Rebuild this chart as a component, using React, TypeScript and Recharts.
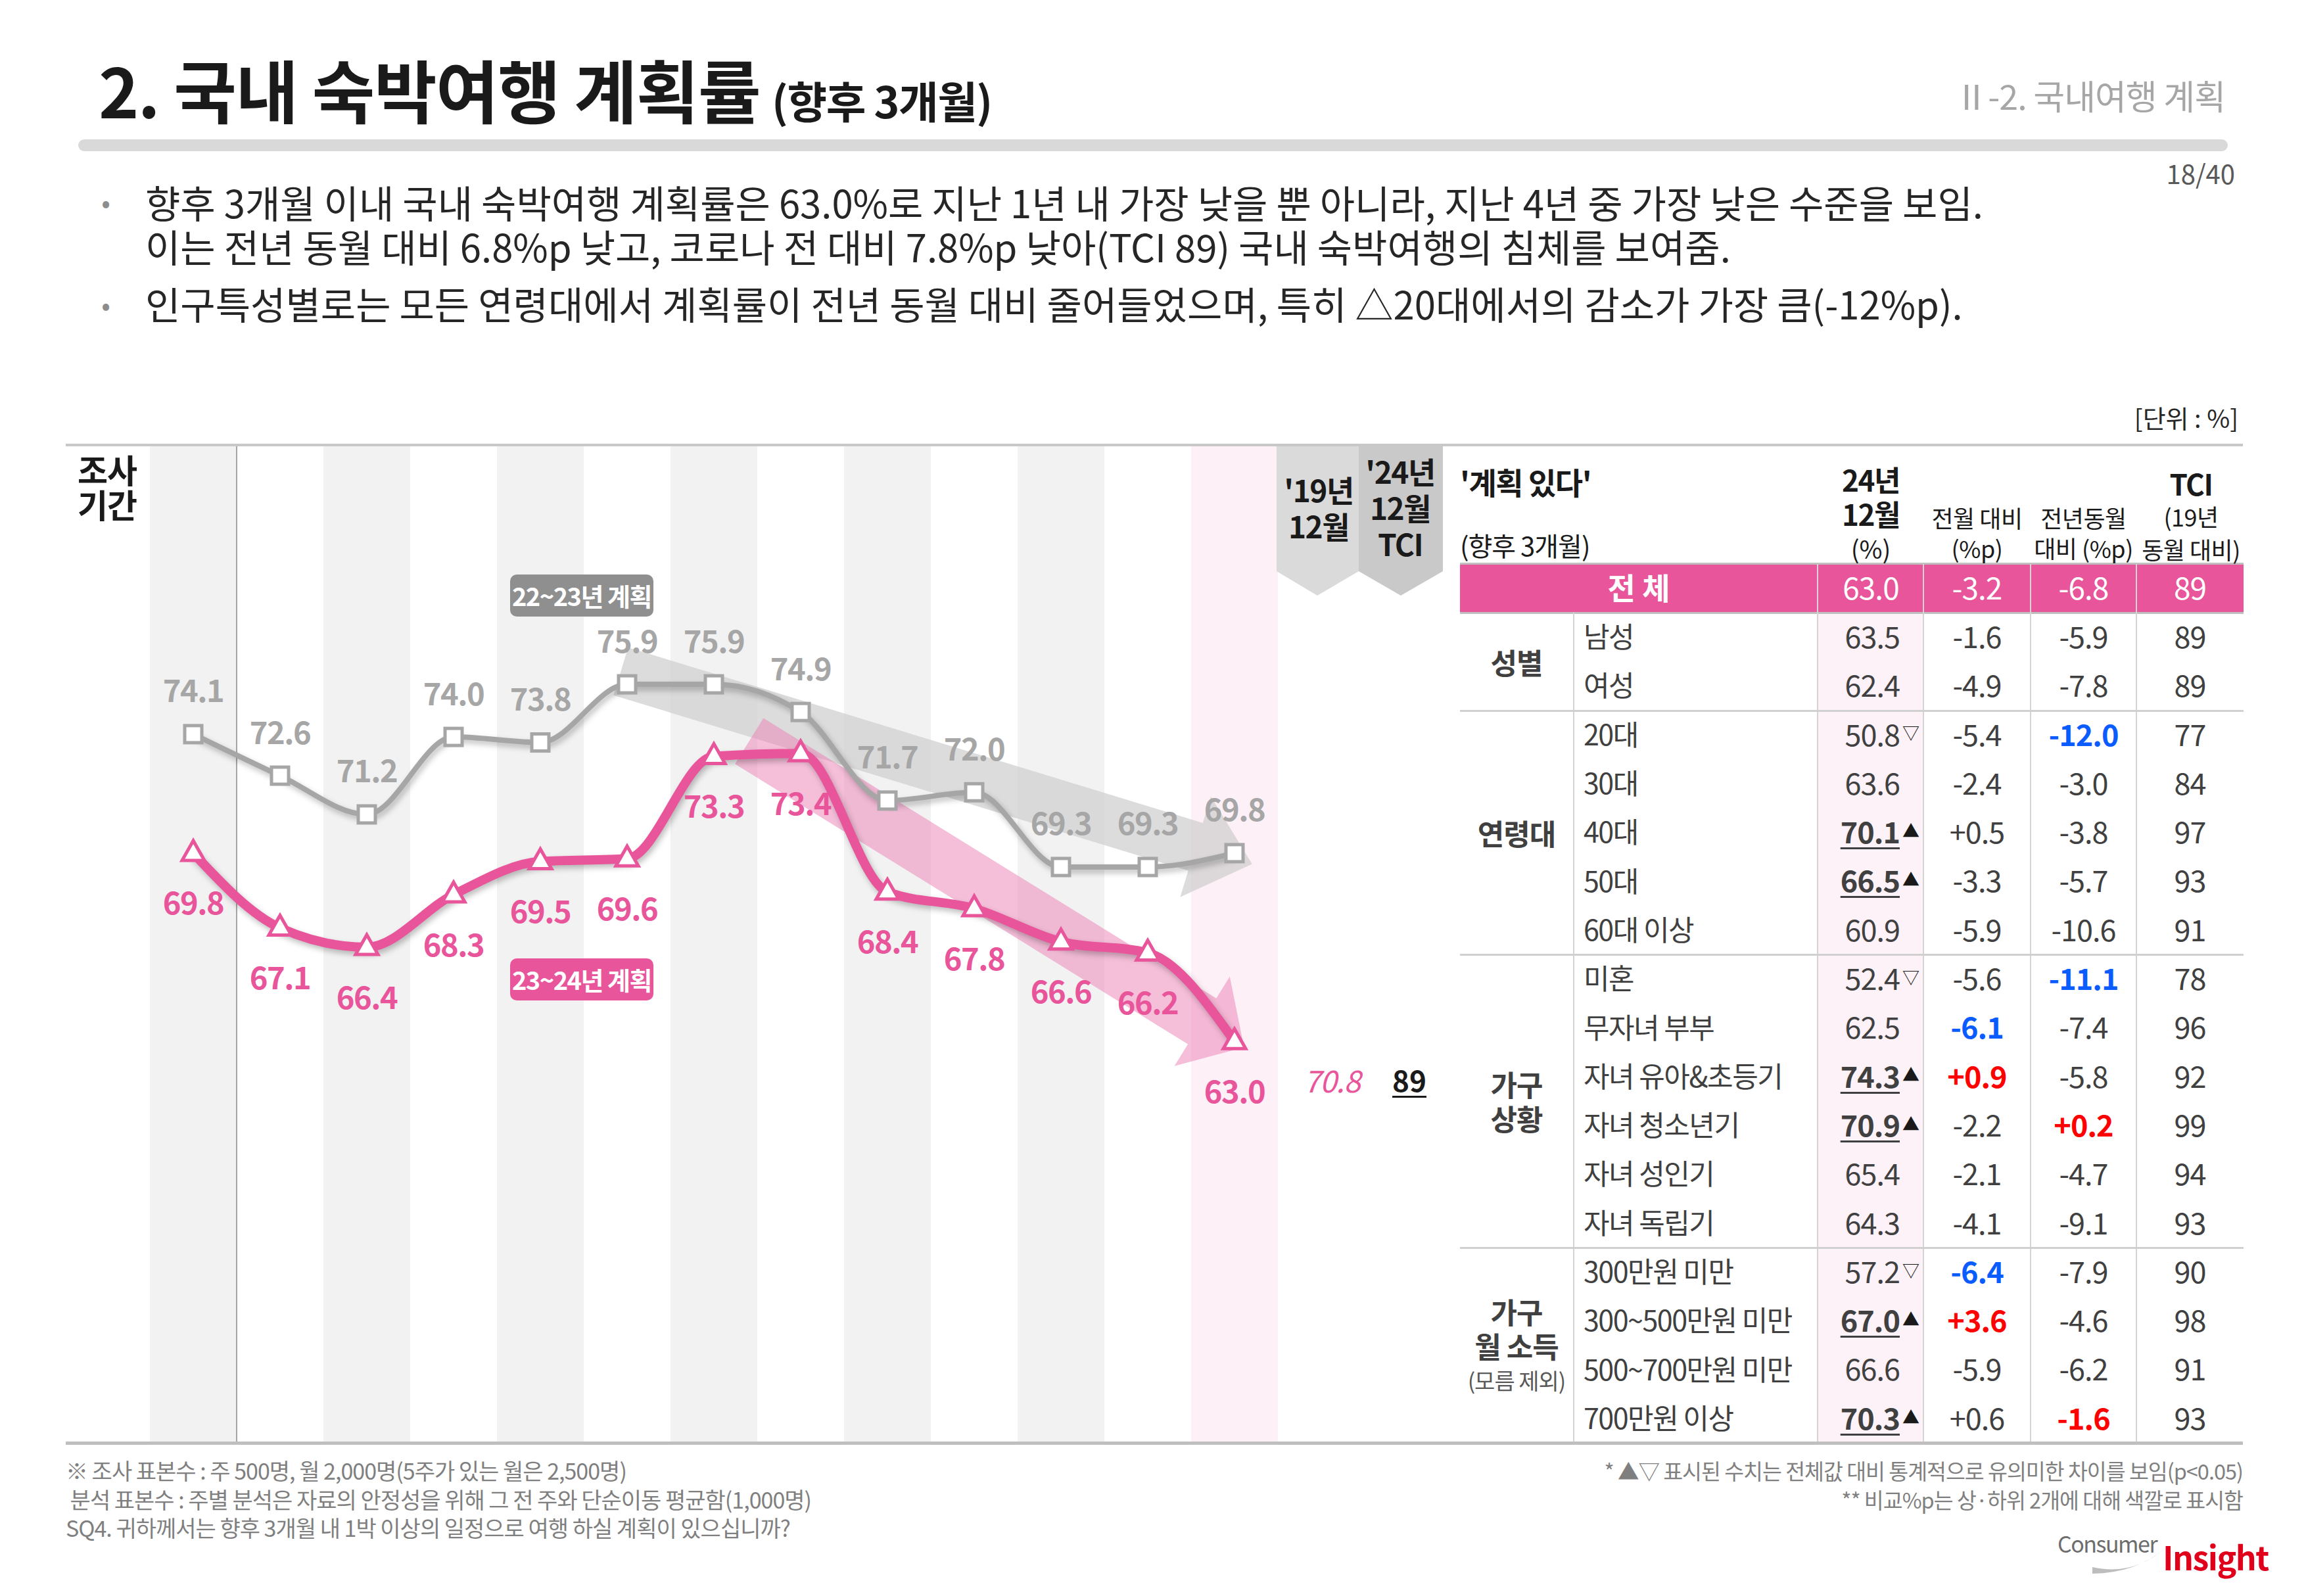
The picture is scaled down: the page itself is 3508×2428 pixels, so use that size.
import React from 'react';
import { ComposedChart, Line, XAxis, YAxis, ReferenceArea, ReferenceLine, LabelList } from 'recharts';

const FONT = "'Noto Sans CJK KR','Noto Sans KR','Noto Sans',sans-serif";

// ---------------- data ----------------
const months = ['23년\n12월', '24년\n1월', '2월', '3월', '4월', '5월', '6월', '7월', '8월', '9월', '10월', '11월', '12월'];
const plan2223 = [74.1, 72.6, 71.2, 74.0, 73.8, 75.9, 75.9, 74.9, 71.7, 72.0, 69.3, 69.3, 69.8];
const plan2324 = [69.8, 67.1, 66.4, 68.3, 69.5, 69.6, 73.3, 73.4, 68.4, 67.8, 66.6, 66.2, 63.0];
const seriesNames = ['22~23년 계획', '23~24년 계획'];
const periodHeader = ['조사', '기간'];
const dec2019Header = ["'19년", '12월'];
const tciHeader = ["'24년", '12월', 'TCI'];
const dec2019Value = 70.8;
const tciValue = 89;
const trendFrom = ['5월', '7월'];
const trendFromValues = [76.3, 72.7];
const trendTo = ['12월', '12월'];
const trendToValues = [69.6, 63.0];

const titleMain = '2. 국내 숙박여행 계획률';
const titleSub = '(향후 3개월)';
const sectionLabel = 'Ⅱ-2. 국내여행 계획';
const pageLabel = '18/40';
const bulletLines = [
  '향후 3개월 이내 국내 숙박여행 계획률은 63.0%로 지난 1년 내 가장 낮을 뿐 아니라, 지난 4년 중 가장 낮은 수준을 보임.',
  '이는 전년 동월 대비 6.8%p 낮고, 코로나 전 대비 7.8%p 낮아(TCI 89) 국내 숙박여행의 침체를 보여줌.',
  '인구특성별로는 모든 연령대에서 계획률이 전년 동월 대비 줄어들었으며, 특히 △20대에서의 감소가 가장 큼(-12%p).',
];
const unitLabel = '[단위 : %]';

const tableTitle = "'계획 있다'";
const tableTitleSub = '(향후 3개월)';
const colHeaders = [['24년', '12월', '(%)'], ['전월 대비', '(%p)'], ['전년동월', '대비 (%p)'], ['TCI', '(19년', '동월 대비)']];
const totalLabel = '전 체';
const totalValues = [63.0, -3.2, -6.8, 89];
const tableGroups = [['성별'], ['연령대'], ['가구', '상황'], ['가구', '월 소득']];
const tableGroupNote = ['', '', '', '(모름 제외)'];
const tableGroupSizes = [2, 5, 6, 4];
const tableItems = ['남성', '여성', '20대', '30대', '40대', '50대', '60대 이상', '미혼', '무자녀 부부', '자녀 유아&초등기', '자녀 청소년기', '자녀 성인기', '자녀 독립기', '300만원 미만', '300~500만원 미만', '500~700만원 미만', '700만원 이상'];
const tableValues = [63.5, 62.4, 50.8, 63.6, 70.1, 66.5, 60.9, 52.4, 62.5, 74.3, 70.9, 65.4, 64.3, 57.2, 67.0, 66.6, 70.3];
const tableSig = ['', '', '▽', '', '▲', '▲', '', '▽', '', '▲', '▲', '', '', '▽', '▲', '', '▲'];
const tableMoM = [-1.6, -4.9, -5.4, -2.4, 0.5, -3.3, -5.9, -5.6, -6.1, 0.9, -2.2, -2.1, -4.1, -6.4, 3.6, -5.9, 0.6];
const tableYoY = [-5.9, -7.8, -12.0, -3.0, -3.8, -5.7, -10.6, -11.1, -7.4, -5.8, 0.2, -4.7, -9.1, -7.9, -4.6, -6.2, -1.6];
const tableTCI = [89, 89, 77, 84, 97, 93, 91, 78, 96, 92, 99, 94, 93, 90, 98, 91, 93];
const tableMoMMark = ['', '', '', '', '', '', '', '', 'low', 'high', '', '', '', 'low', 'high', '', ''];
const tableYoYMark = ['', '', 'low', '', '', '', '', 'low', '', '', 'high', '', '', '', '', '', 'high'];

const footLeft = [
  '※ 조사 표본수 : 주 500명, 월 2,000명(5주가 있는 월은 2,500명)',
  ' 분석 표본수 : 주별 분석은 자료의 안정성을 위해 그 전 주와 단순이동 평균함(1,000명)',
  'SQ4. 귀하께서는 향후 3개월 내 1박 이상의 일정으로 여행 하실 계획이 있으십니까?',
];
const footRight = [
  '* ▲▽ 표시된 수치는 전체값 대비 통계적으로 유의미한 차이를 보임(p<0.05)',
  '** 비교%p는 상·하위 2개에 대해 색깔로 표시함',
];

// ---------------- style ----------------
const PINK = '#e9559b';
const GRAY_LINE = '#a6a6a6';
const BLUE = '#0a5cff';
const RED = '#ff0000';
const CHART_L = 228;
const CHART_T = 679;
const CHART_W = 1716;
const CHART_H = 1514;
const BAND = CHART_W / months.length;

type TP = {
  x: number; y: number; size: number; children?: React.ReactNode;
  weight?: number; color?: string; align?: 'left' | 'center' | 'right'; ls?: number; italic?: boolean; underline?: boolean;
};
function T({ x, y, size, children, weight = 400, color = '#262626', align = 'left', ls = 0, italic, underline }: TP) {
  const tx = align === 'left' ? '0' : align === 'center' ? '-50%' : '-100%';
  return (
    <div
      style={{
        position: 'absolute', left: x, top: y - size * 0.566, lineHeight: `${size}px`, textAlign: align,
        fontSize: size, fontWeight: weight, color, letterSpacing: ls, whiteSpace: 'nowrap',
        transform: `translateX(${tx})`,
        fontStyle: italic ? 'italic' : 'normal', textDecoration: underline ? 'underline' : 'none',
        textUnderlineOffset: 6, textDecorationThickness: 3,
      }}
    >
      {children}
    </div>
  );
}

// multi-line svg text (one element with tspans)
type SL = string | { t: string; size?: number; weight?: number; color?: string; ls?: number };
type STP = { x: number; y: number; size: number; pitch: number; lines: SL[]; anchor?: 'start' | 'middle' | 'end'; weight?: number; color?: string; ls?: number };
function ST({ x, y, size, pitch, lines, anchor = 'start', weight = 400, color = '#262626', ls = 0 }: STP) {
  return (
    <text x={x} y={y} fontSize={size} fontWeight={weight} fill={color} letterSpacing={ls} textAnchor={anchor}
      dominantBaseline="central" fontFamily={FONT}>
      {lines.map((l, i) => {
        const o = typeof l === 'string' ? { t: l } : l;
        return (
          <tspan key={i} x={x} dy={i === 0 ? 0 : pitch} fontSize={o.size} fontWeight={o.weight} fill={o.color} letterSpacing={o.ls}
            dominantBaseline="central">{o.t}</tspan>
        );
      })}
    </text>
  );
}

function MonthTick(props: any) {
  const { x, payload } = props;
  const lines = String(payload.value).split('\n');
  const y0 = lines.length === 2 ? 36 : 89;
  return (
    <text x={x} y={y0} textAnchor="middle" dominantBaseline="central" fontFamily={FONT}
      fontSize={50} fontWeight={700} fill="#1a1a1a" letterSpacing={-1}>
      {lines.map((ln, i) => (
        <tspan key={i} x={x} dy={i === 0 ? 0 : 53}>{ln}</tspan>
      ))}
    </text>
  );
}

function SquareDot(props: any) {
  const { cx, cy, index } = props;
  if (cx == null || cy == null) return <g key={`sq-${index}`} />;
  return <rect key={`sq-${index}`} x={cx - 13} y={cy - 13} width={26} height={26} fill="#fff" stroke={GRAY_LINE} strokeWidth={5} />;
}

function TriDot(props: any) {
  const { cx, cy, index } = props;
  if (cx == null || cy == null) return <g key={`tr-${index}`} />;
  return <polygon key={`tr-${index}`} points={`${cx},${cy - 19} ${cx - 17},${cy + 11} ${cx + 17},${cy + 11}`} fill="#fff" stroke={PINK} strokeWidth={5} />;
}

function makeLabel(color: string, dy: number) {
  return (p: any) => {
    const vb = p.viewBox || {};
    const x = vb.x ?? p.x;
    const y = vb.y ?? p.y;
    if (x == null || y == null || p.value == null) return null;
    return (
      <text x={x} y={y + dy} textAnchor="middle" dominantBaseline="central" fontFamily={FONT}
        fontSize={47} fontWeight={700} fill={color} letterSpacing={-1.5}>
        {Number(p.value).toFixed(1)}
      </text>
    );
  };
}

function makeArrow(fill: string, opacity: number, thick: number, headHalf: number, headLen: number, extStart: number, extEnd: number) {
  return (p: any) => {
    const { x1, y1, x2, y2 } = p;
    if ([x1, y1, x2, y2].some((v) => v == null || Number.isNaN(v))) return <g />;
    const dx = x2 - x1, dy = y2 - y1, len = Math.hypot(dx, dy);
    const ux = dx / len, uy = dy / len, nx = -uy, ny = ux;
    const sx = x1 - ux * extStart, sy = y1 - uy * extStart;
    const ex = x2 + ux * extEnd, ey = y2 + uy * extEnd;
    const bx = ex - ux * headLen, by = ey - uy * headLen;
    const t = thick / 2;
    const pts = [
      [sx + nx * t, sy + ny * t], [bx + nx * t, by + ny * t], [bx + nx * headHalf, by + ny * headHalf], [ex, ey],
      [bx - nx * headHalf, by - ny * headHalf], [bx - nx * t, by - ny * t], [sx - nx * t, sy - ny * t],
    ];
    return <polygon points={pts.map((q) => q.join(',')).join(' ')} fill={fill} fillOpacity={opacity} />;
  };
}

const arrowShapes = [
  makeArrow('#cfcfcf', 0.72, 76, 80, 90, 10, 28),
  makeArrow('#ec7db3', 0.5, 82, 80, 75, 92, 17),
];

function separatorShape(p: any) {
  const { x1, y1, x2, y2 } = p;
  if (x1 == null) return <g />;
  return <line x1={x1 - BAND / 2} x2={x2 - BAND / 2} y1={y1} y2={y2} stroke="#a6a6a6" strokeWidth={2} />;
}

// table geometry
const COLS = [2221, 2394, 2765, 2926, 3089, 3250, 3413];
const TOTAL_TOP = 858;
const ROW_H = 74.3;
const BODY_TOP = TOTAL_TOP + ROW_H;
const TABLE_BOTTOM = BODY_TOP + ROW_H * tableItems.length;
const fmtSigned = (v: number) => (v > 0 ? '+' : '') + v.toFixed(1);
const markColor = (m: string) => (m === 'low' ? BLUE : m === 'high' ? RED : '#404040');

export default function App() {
  const chartData = months.map((m, i) => ({ month: m, prev: plan2223[i], cur: plan2324[i] }));
  const colCenters = [0, 1, 2, 3].map((i) => (COLS[i + 2] + COLS[i + 3]) / 2);

  const groupTexts: React.ReactNode[] = [];
  let gs = 0;
  tableGroups.forEach((g, gi) => {
    const top = BODY_TOP + ROW_H * gs;
    const h = ROW_H * tableGroupSizes[gi];
    gs += tableGroupSizes[gi];
    const note = tableGroupNote[gi];
    const lines: SL[] = [...g];
    if (note) lines.push({ t: note, size: 34, weight: 400, color: '#595959' });
    const pitch = 52;
    const first = top + h / 2 - ((lines.length - 1) * pitch) / 2;
    groupTexts.push(<ST key={`g-${gi}`} x={2307} y={first} size={44} pitch={pitch} lines={lines} anchor="middle" weight={700} color="#404040" ls={-1} />);
  });

  return (
    <div style={{ position: 'absolute', left: 0, top: 0, width: 3508, height: 2428, background: '#fff', overflow: 'hidden', fontFamily: FONT }}>
      <style>{`.recharts-line-curve{filter:drop-shadow(3px 5px 4px rgba(0,0,0,0.25));}`}</style>

      {/* title block */}
      <div style={{ position: 'absolute', left: 150, top: 142 - 0.566 * 104, fontSize: 104, lineHeight: '104px', fontWeight: 700, color: '#1a1a1a', letterSpacing: -1.5, whiteSpace: 'nowrap' }}>
        {titleMain}
        <span style={{ fontSize: 66, marginLeft: 18, letterSpacing: -1.5 }}>{titleSub}</span>
      </div>
      <T x={3385} y={148} size={52} color="#a6a6a6" align="right" ls={-1}>{sectionLabel}</T>
      <div style={{ position: 'absolute', left: 119, top: 212, width: 3270, height: 18, borderRadius: 9, background: '#d9d9d9' }} />
      <T x={3400} y={266} size={40} color="#595959" align="right">{pageLabel}</T>

      {/* bullets (dots) */}
      <T x={161} y={309} size={40} color="#8c8c8c" align="center">•</T>
      <T x={161} y={465} size={40} color="#8c8c8c" align="center">•</T>
      <T x={221} y={465} size={58} color="#262626">{bulletLines[2]}</T>

      <T x={3405} y={638} size={38} color="#262626" align="right">{unitLabel}</T>

      {/* top rule */}
      <div style={{ position: 'absolute', left: 100, top: 675, width: 3312, height: 4, background: '#c8c8c8' }} />

      {/* chart */}
      <div style={{ position: 'absolute', left: CHART_L, top: CHART_T, width: CHART_W, height: CHART_H }}>
        <ComposedChart width={CHART_W} height={CHART_H} data={chartData} margin={{ top: 0, right: 0, bottom: 0, left: 0 }}>
          <XAxis dataKey="month" orientation="top" scale="band" height={0} axisLine={false} tickLine={false} interval={0} tick={MonthTick} />
          <YAxis hide type="number" domain={[48.54, 84.5]} allowDataOverflow />
          {months.map((m, i) =>
            i % 2 === 0 ? (
              <ReferenceArea key={`st-${i}`} x1={m} x2={m} fill={i === months.length - 1 ? '#fdf1f7' : '#f2f2f2'} fillOpacity={1} stroke="none" ifOverflow="visible" zIndex={-300} />
            ) : null
          )}
          <ReferenceLine x={months[1]} shape={separatorShape} ifOverflow="visible" zIndex={-250} />
          {trendFrom.map((f, i) => (
            <ReferenceLine key={`ar-${i}`} segment={[{ x: f, y: trendFromValues[i] }, { x: trendTo[i], y: trendToValues[i] }]}
              shape={arrowShapes[i]} ifOverflow="visible" zIndex={-200} />
          ))}
          <Line dataKey="prev" name={seriesNames[0]} type="monotone" stroke={GRAY_LINE} strokeWidth={8} isAnimationActive={false} dot={SquareDot} activeDot={false}>
            <LabelList dataKey="prev" content={makeLabel('#a6a6a6', -69)} />
          </Line>
          <Line dataKey="cur" name={seriesNames[1]} type="monotone" stroke={PINK} strokeWidth={14} isAnimationActive={false} dot={TriDot} activeDot={false}>
            <LabelList dataKey="cur" content={makeLabel(PINK, 73)} />
          </Line>
        </ComposedChart>
      </div>

      {/* series badges */}
      <div style={{ position: 'absolute', left: 776, top: 874, width: 218, height: 64, borderRadius: 10, background: '#8f8f8f', color: '#fff', fontSize: 38, fontWeight: 700, lineHeight: '64px', textAlign: 'center', letterSpacing: -1.5, whiteSpace: 'nowrap' }}>{seriesNames[0]}</div>
      <div style={{ position: 'absolute', left: 776, top: 1458, width: 218, height: 64, borderRadius: 10, background: PINK, color: '#fff', fontSize: 38, fontWeight: 700, lineHeight: '64px', textAlign: 'center', letterSpacing: -1.5, whiteSpace: 'nowrap' }}>{seriesNames[1]}</div>

      {/* extra columns ('19 / TCI) + logo swoosh */}
      <svg width={3508} height={2428} style={{ position: 'absolute', left: 0, top: 0, pointerEvents: 'none' }}>
        <polygon points="1942,679 2067,679 2067,869 2004,906 1942,869" fill="#dadada" />
        <polygon points="2067,679 2195,679 2195,869 2131,906 2067,869" fill="#c9c9c9" />
        <path d="M3183 2384 Q3245 2398 3294 2355 Q3250 2393 3183 2394 Z" fill="#bdbdbd" />
      </svg>
      <T x={2026} y={1645} size={46} weight={400} color={PINK} align="center" italic ls={-1}>{dec2019Value.toFixed(1)}</T>
      <T x={2144} y={1645} size={44} weight={700} color="#1a1a1a" align="center" underline>{tciValue}</T>

      {/* ---------- table ---------- */}
      <div style={{ position: 'absolute', left: COLS[2], top: BODY_TOP, width: COLS[3] - COLS[2], height: TABLE_BOTTOM - BODY_TOP, background: '#fdf2f8' }} />
      <div style={{ position: 'absolute', left: COLS[0], top: TOTAL_TOP, width: COLS[6] - COLS[0], height: ROW_H, background: PINK }} />
      <div style={{ position: 'absolute', left: COLS[0], top: TOTAL_TOP - 2, width: COLS[6] - COLS[0], height: 3, background: '#bfbfbf' }} />
      <div style={{ position: 'absolute', left: COLS[0], top: BODY_TOP - 1, width: COLS[6] - COLS[0], height: 3, background: '#bfbfbf' }} />
      {COLS.slice(1, 6).map((c, i) => (
        <div key={`vl-${i}`} style={{ position: 'absolute', left: c - 1, top: i === 0 ? BODY_TOP : TOTAL_TOP, width: 2, height: TABLE_BOTTOM - (i === 0 ? BODY_TOP : TOTAL_TOP), background: '#d4d4d4' }} />
      ))}
      {[2, 7, 13].map((r) => (
        <div key={`hl-${r}`} style={{ position: 'absolute', left: COLS[0], top: BODY_TOP + ROW_H * r - 1, width: COLS[6] - COLS[0], height: 3, background: '#d0d0d0' }} />
      ))}

      {/* table header (single-line) */}
      <T x={2221} y={735} size={46} weight={700} color="#1a1a1a" ls={-1.5}>{tableTitle}</T>
      <T x={2221} y={832} size={40} color="#1a1a1a" ls={-1}>{tableTitleSub}</T>

      {/* total row */}
      <T x={(COLS[0] + COLS[2]) / 2} y={TOTAL_TOP + ROW_H / 2} size={46} weight={700} color="#fff" align="center">{totalLabel}</T>
      <T x={2846} y={TOTAL_TOP + ROW_H / 2} size={46} color="#fff" align="center" ls={-1}>{totalValues[0].toFixed(1)}</T>
      <T x={colCenters[1]} y={TOTAL_TOP + ROW_H / 2} size={46} color="#fff" align="center" ls={-1}>{totalValues[1].toFixed(1)}</T>
      <T x={colCenters[2]} y={TOTAL_TOP + ROW_H / 2} size={46} color="#fff" align="center" ls={-1}>{totalValues[2].toFixed(1)}</T>
      <T x={colCenters[3]} y={TOTAL_TOP + ROW_H / 2} size={46} color="#fff" align="center" ls={-1}>{totalValues[3]}</T>

      {/* rows */}
      {tableItems.map((item, i) => {
        const cy = BODY_TOP + ROW_H * i + ROW_H / 2;
        const up = tableSig[i] === '▲';
        return (
          <React.Fragment key={`r-${i}`}>
            <T x={2409} y={cy} size={43} color="#404040" ls={-1.5}>{item}</T>
            <T x={2890} y={cy} size={45} weight={up ? 700 : 400} color="#404040" align="right" ls={-1} underline={up}>{tableValues[i].toFixed(1)}</T>
            {tableSig[i] ? <T x={2894} y={cy - 2} size={26} color="#1a1a1a">{tableSig[i]}</T> : null}
            <T x={colCenters[1]} y={cy} size={45} weight={tableMoMMark[i] ? 700 : 400} color={markColor(tableMoMMark[i])} align="center" ls={-1}>{fmtSigned(tableMoM[i])}</T>
            <T x={colCenters[2]} y={cy} size={45} weight={tableYoYMark[i] ? 700 : 400} color={markColor(tableYoYMark[i])} align="center" ls={-1}>{fmtSigned(tableYoY[i])}</T>
            <T x={colCenters[3]} y={cy} size={45} color="#404040" align="center" ls={-1}>{tableTCI[i]}</T>
          </React.Fragment>
        );
      })}

      {/* bottom rule */}
      <div style={{ position: 'absolute', left: 100, top: 2193, width: 3312, height: 5, background: '#bfbfbf' }} />

      {/* logo */}
      <T x={3130} y={2350} size={34} color="#6d6d6d" ls={-1.5}>Consumer</T>
      <T x={3290} y={2370} size={50} weight={700} color="#e0001b" ls={-1.5}>Insight</T>

      {/* multi-line texts as svg text blocks */}
      <svg width={3508} height={2428} style={{ position: 'absolute', left: 0, top: 0, pointerEvents: 'none' }}>
        <ST x={221} y={307} size={58} pitch={67} lines={[bulletLines[0], bulletLines[1]]} color="#262626" />
        <ST x={163} y={713} size={50} pitch={53} lines={periodHeader} anchor="middle" weight={700} color="#1a1a1a" ls={-1} />
        <ST x={2006} y={744} size={46} pitch={55} lines={dec2019Header} anchor="middle" weight={700} color="#1a1a1a" ls={-1.5} />
        <ST x={2130} y={716} size={46} pitch={55} lines={tciHeader} anchor="middle" weight={700} color="#1a1a1a" ls={-1.5} />
        <ST x={2846} y={729} size={44} pitch={52} anchor="middle" weight={700} color="#1a1a1a" ls={-1.5}
          lines={[colHeaders[0][0], colHeaders[0][1], { t: colHeaders[0][2], size: 38, weight: 400, ls: 0 }]} />
        <ST x={colCenters[1]} y={787} size={36} pitch={46} lines={colHeaders[1]} anchor="middle" color="#1a1a1a" ls={-0.5} />
        <ST x={colCenters[2]} y={787} size={36} pitch={46} lines={colHeaders[2]} anchor="middle" color="#1a1a1a" ls={-0.5} />
        <ST x={3333} y={735} size={36} pitch={50} anchor="middle" color="#1a1a1a" ls={-0.5}
          lines={[{ t: colHeaders[3][0], size: 44, weight: 700, ls: -1.5 }, colHeaders[3][1], colHeaders[3][2]]} />
        {groupTexts}
        <ST x={100} y={2236} size={34} pitch={43.5} lines={footLeft} color="#7f7f7f" ls={-1} />
        <ST x={3412} y={2236} size={32.5} pitch={43.5} lines={footRight} anchor="end" color="#7f7f7f" ls={-1} />
      </svg>
    </div>
  );
}
